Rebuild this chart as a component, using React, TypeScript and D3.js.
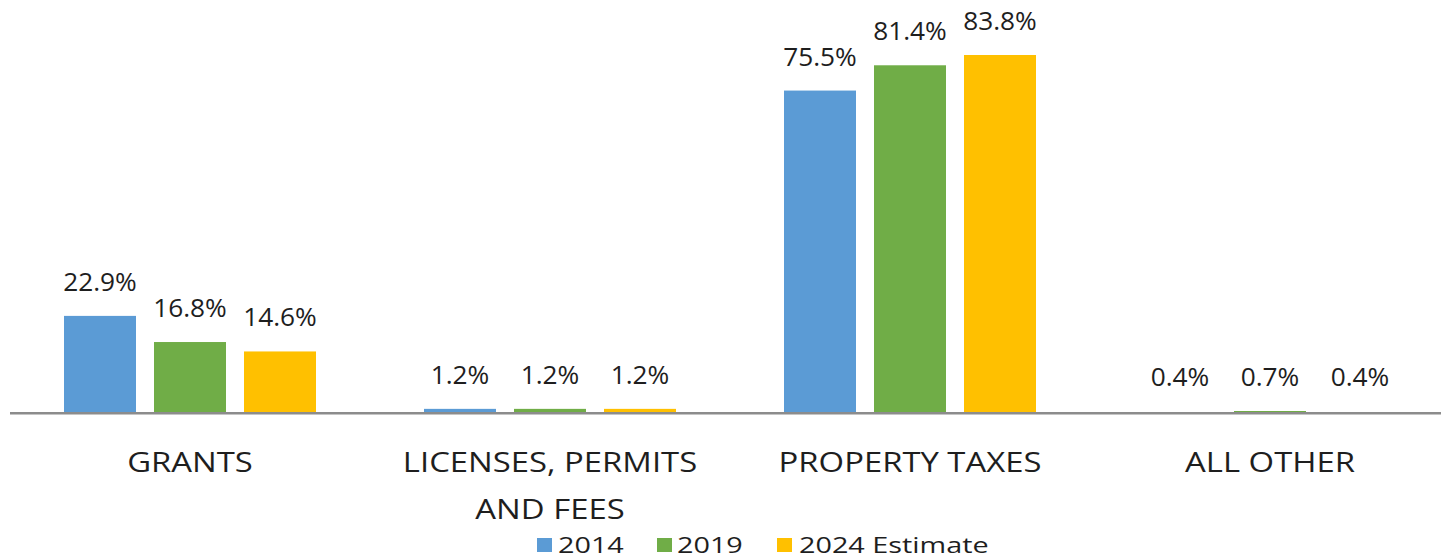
import React from "react";
import * as d3 from "d3";

const categories: string[][] = [
  ["GRANTS"],
  ["LICENSES, PERMITS", "AND FEES"],
  ["PROPERTY TAXES"],
  ["ALL OTHER"],
];
const seriesNames = ["2014", "2019", "2024 Estimate"];
const seriesColors = ["#5B9BD5", "#70AD47", "#FFC000"];
const values2014 = [22.9, 1.2, 75.5, 0.4];
const values2019 = [16.8, 1.2, 81.4, 0.7];
const values2024 = [14.6, 1.2, 83.8, 0.4];
const seriesValues = [values2014, values2019, values2024];

const W = 1441;
const H = 559;
const FONT = "'Open Sans', sans-serif";
const TEXT = "#1e1e1e";

export default function App() {
  const catKeys = categories.map((c) => c.join(" "));
  const x0 = d3.scaleBand<string>().domain(catKeys).range([10, 1450]).paddingInner(0.25).paddingOuter(0.125);
  const x1 = d3.scaleBand<string>().domain(seriesNames).range([0, x0.bandwidth()]).paddingInner(0.2).paddingOuter(0.1);
  const y = d3.scaleLinear().domain([0, 83.8]).range([414, 55]);

  const stretch = (x: number, yy: number, sx: number) => `translate(${x},${yy}) scale(${sx},1)`;

  const legendItems = [
    { sq: 537, tx: 558 },
    { sq: 657, tx: 677 },
    { sq: 777, tx: 799 },
  ];

  return (
    <svg width={W} height={H} style={{ position: "absolute", left: 0, top: 0, background: "#fff" }}>
      {catKeys.map((ck, ci) =>
        seriesNames.map((s, si) => {
          const v = seriesValues[si][ci];
          const bx = (x0(ck) ?? 0) + (x1(s) ?? 0);
          const bw = x1.bandwidth();
          return (
            <g key={ck + s}>
              <rect x={bx} y={y(v)} width={bw} height={y(0) - y(v)} fill={seriesColors[si]} />
              <text
                transform={stretch(bx + bw / 2, Math.min(y(v), 411) - 25, 1.05)}
                textAnchor="middle"
                fontFamily={FONT}
                fontSize={25}
                fill={TEXT}
              >
                {v.toFixed(1) + "%"}
              </text>
            </g>
          );
        })
      )}
      <line x1={10} x2={W} y1={413.3} y2={413.3} stroke="#8c8c8c" strokeWidth={2.5} />
      {categories.map((lines, ci) => {
        const cx = (x0(catKeys[ci]) ?? 0) + x0.bandwidth() / 2;
        return lines.map((ln, li) => (
          <text
            key={ci + "-" + li}
            transform={stretch(cx, 472 + li * 47, 1.24)}
            textAnchor="middle"
            fontFamily={FONT}
            fontSize={26.5}
            fill={TEXT}
          >
            {ln}
          </text>
        ));
      })}
      {seriesNames.map((s, si) => (
        <g key={"lg" + s}>
          <rect x={legendItems[si].sq} y={538} width={15} height={14} fill={seriesColors[si]} />
          <text
            transform={stretch(legendItems[si].tx, 553, 1.28)}
            fontFamily={FONT}
            fontSize={22.5}
            fill={TEXT}
          >
            {s}
          </text>
        </g>
      ))}
    </svg>
  );
}
